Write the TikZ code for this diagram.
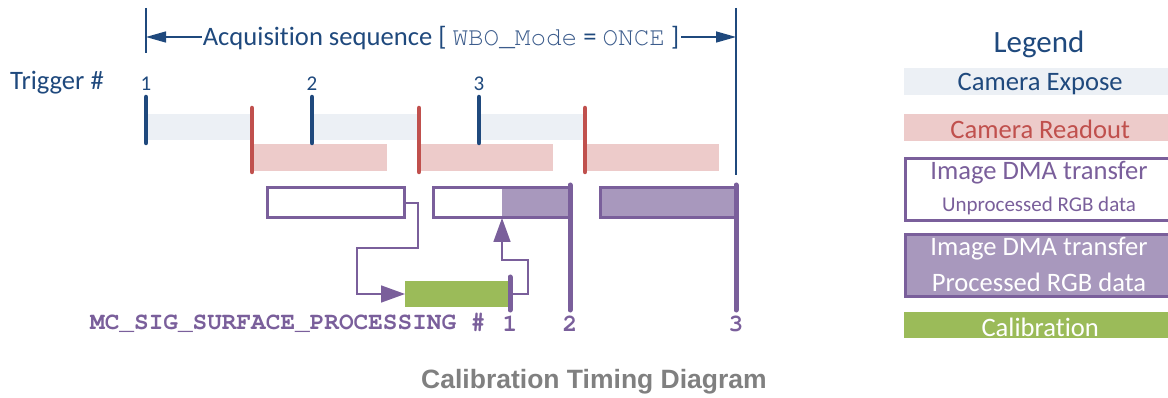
\documentclass[tikz,border=0pt]{standalone}
\usepackage{fontspec}
\setmainfont{Carlito}[Ligatures=NoCommon]
\newfontfamily\codefont{texgyrecursor}[Extension=.otf, UprightFont=*-regular, BoldFont=*-bold]
\newfontfamily\titlefont{Liberation Sans}
\usetikzlibrary{arrows.meta}

\definecolor{seqblue}{RGB}{31,73,125}
\definecolor{modeblue}{RGB}{60,92,140}
\definecolor{exposefill}{RGB}{236,240,245}
\definecolor{readred}{RGB}{192,80,77}
\definecolor{readfill}{RGB}{237,203,202}
\definecolor{dmapurple}{RGB}{122,95,155}
\definecolor{procfill}{RGB}{168,152,189}
\definecolor{calgreen}{RGB}{155,187,89}
\definecolor{titlegray}{RGB}{128,128,128}

\tikzset{
  slot/.style={rectangle, inner sep=0pt, outer sep=0pt, anchor=north west},
  exposebar/.style={slot, fill=exposefill},
  readbar/.style={slot, fill=readfill},
  dmaraw/.style={slot, draw=dmapurple, line width=3pt, fill=white},
  dmaproc/.style={slot, draw=dmapurple, line width=3pt, fill=procfill},
  calbar/.style={slot, fill=calgreen},
  trigtick/.style={seqblue, line width=4.5pt, line cap=round},
  readtick/.style={readred, line width=4.5pt, line cap=round},
  proctick/.style={dmapurple, line width=5pt, line cap=round},
  seqline/.style={seqblue, line width=1.5pt},
  seqarrow/.style={seqblue, line width=1.5pt, -{Triangle[length=20pt,width=11pt]}},
  flow/.style={dmapurple, line width=1.6pt, -{Triangle[length=24pt,width=17pt]}},
  maintext/.style={inner sep=0pt, font=\fontsize{26.6}{30}\selectfont},
  trignum/.style={inner sep=0pt, text=seqblue, font=\fontsize{21}{24}\selectfont},
  sigtext/.style={inner sep=0pt, text=dmapurple, font=\codefont\bfseries\fontsize{24.4}{28}\selectfont},
  legbox/.style={rectangle, inner sep=0pt, anchor=north west, minimum width=272pt},
  legtext/.style={inner sep=0pt, font=\fontsize{26.6}{30}\selectfont},
}

\begin{document}
\begin{tikzpicture}[x=1pt,y=-1pt]
\useasboundingbox (0,0) rectangle (1168,398);

% ---- acquisition sequence span ----
\draw[seqline] (146,8) -- (146,53);
\draw[seqline] (736,8) -- (736,175);
\coordinate (seqL) at (146,37);
\coordinate (seqR) at (736,37);
\node[maintext, text=seqblue] (acq) at (441,38)
  {Acquisition sequence [ {\color{modeblue}\codefont\fontsize{26}{30}\selectfont WBO\_Mode} = {\color{modeblue}\codefont\fontsize{26}{30}\selectfont ONCE} ]};
\draw[seqarrow] ([xshift=-1pt]acq.west |- seqL) -- (seqL);
\draw[seqarrow] ([xshift=2pt]acq.east |- seqR) -- (seqR);

% ---- trigger labels ----
\node[maintext, text=seqblue, anchor=west] (trig) at (10,83) {Trigger \#};
\node[trignum] (t1) at (146,84) {1};
\node[trignum] (t2) at (312,84) {2};
\node[trignum] (t3) at (479,84) {3};

% ---- camera exposure ----
\node[exposebar, minimum width=106pt, minimum height=26pt] (ex1) at (146,114) {};
\node[exposebar, minimum width=107pt, minimum height=26pt] (ex2) at (312,114) {};
\node[exposebar, minimum width=106pt, minimum height=26pt] (ex3) at (479,114) {};

% ---- camera readout ----
\node[readbar, minimum width=135pt, minimum height=27pt] (rd1) at (252,144) {};
\node[readbar, minimum width=134pt, minimum height=27pt] (rd2) at (419,144) {};
\node[readbar, minimum width=134pt, minimum height=27pt] (rd3) at (585,144) {};

\draw[trigtick] (146,97) -- (146,143);
\draw[trigtick] (312,97) -- (312,143);
\draw[trigtick] (479,97) -- (479,143);
\draw[readtick] (252,108) -- (252,172);
\draw[readtick] (419,108) -- (419,172);
\draw[readtick] (585,108) -- (585,172);

% ---- image DMA transfers ----
\node[dmaraw, minimum width=137pt, minimum height=30pt] (dma1) at (267,188) {};
\node[slot, fill=white, minimum width=69pt, minimum height=30pt] (dma2a) at (433,188) {};
\node[slot, fill=procfill, minimum width=68pt, minimum height=30pt] (dma2b) at (502,188) {};
\node[slot, draw=dmapurple, line width=3pt, minimum width=137pt, minimum height=30pt] (dma2) at (433,188) {};
\node[dmaproc, minimum width=136pt, minimum height=30pt] (dma3) at (600,188) {};

% ---- calibration ----
\node[calbar, minimum width=103pt, minimum height=26pt] (cal) at (405,281) {};

\draw[proctick] (570,185) -- (570,310);
\draw[proctick] (736,185) -- (736,310);
\draw[proctick] (510,277) -- (510,310);

% ---- data flow ----
\draw[flow] (dma1.east) -| (418,248) -| (357,294) -- (cal.west);
\draw[flow] ([xshift=2pt]cal.east) -| (528,260) -| (dma2b.south west);

% ---- surface processing signals ----
\node[sigtext, anchor=west] (sig) at (90,323) {MC\_SIG\_SURFACE\_PROCESSING \#};
\node[sigtext] (s1) at (510,324) {1};
\node[sigtext] (s2) at (570,324) {2};
\node[sigtext] (s3) at (736,324) {3};

% ---- legend ----
\node[maintext, text=seqblue, font=\fontsize{31}{34}\selectfont] (leg) at (1039,44) {Legend};
\node[legbox, fill=exposefill, minimum height=27pt] (lex) at (904,68) {};
\node[legtext, text=seqblue] (lexT) at ([yshift=-2pt]lex.center) {Camera Expose};
\node[legbox, fill=readfill, minimum height=27pt] (lrd) at (904,114) {};
\node[legtext, text=readred] (lrdT) at ([yshift=-2pt]lrd.center) {Camera Readout};
\node[legbox, draw=dmapurple, line width=3pt, fill=white, minimum height=62pt] (lraw) at (904,157) {};
\node[legtext, text=dmapurple] (lrawT) at (1039,173) {Image DMA transfer};
\node[legtext, text=dmapurple, font=\fontsize{21}{24}\selectfont] (lrawS) at (1039,206) {Unprocessed RGB data};
\node[legbox, draw=dmapurple, line width=3pt, fill=procfill, minimum height=62pt] (lproc) at (904,233) {};
\node[legtext, text=white] (lprocT) at (1039,249) {Image DMA transfer};
\node[legtext, text=white] (lprocS) at (1039,282) {Processed RGB data};
\node[legbox, fill=calgreen, minimum height=26pt] (lcal) at (904,312) {};
\node[legtext, text=white] (lcalT) at ([yshift=-2pt]lcal.center) {Calibration};

% ---- title ----
\node[inner sep=0pt, text=titlegray, font=\titlefont\bfseries\fontsize{26.5}{30}\selectfont] (title) at (594,382) {Calibration Timing Diagram};
\end{tikzpicture}
\end{document}
